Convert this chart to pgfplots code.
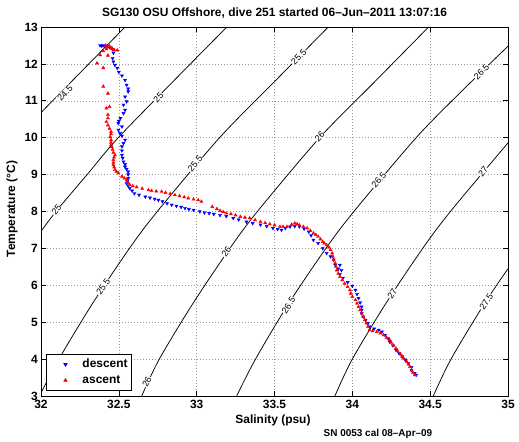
\documentclass[border=0pt]{standalone}
\usepackage{fontspec}
\setmainfont{Liberation Sans}
\usepackage{pgfplots}
\pgfplotsset{compat=1.18}
\begin{document}
\begin{tikzpicture}
\begin{axis}[
  scale only axis, width=467bp, height=369bp,
  xmin=32, xmax=35, ymin=3, ymax=13,
  xtick={32,32.5,33,33.5,34,34.5,35}, ytick={3,4,5,6,7,8,9,10,11,12,13},
  grid=major, grid style={gray!80, line width=0.5bp, dash pattern=on 0.8bp off 2.2bp},
  tick align=inside, major tick length=5bp,
  axis line style={line width=0.8bp},
  every tick/.style={black, line width=0.6bp},
  /pgf/number format/assume math mode=true,
  ticklabel style={font=\bfseries\fontsize{12}{14}\selectfont},
  xticklabel style={anchor=north, inner sep=0pt, yshift=-4bp},
  yticklabel style={anchor=east, inner sep=0pt, xshift=-3bp},
  legend style={at={(0.0107,0.0144)}, anchor=south west, draw=black, line width=0.8bp,
    fill=white, inner xsep=1.5bp, inner ysep=1.85bp, column sep=0bp, row sep=0bp,
    font=\bfseries\fontsize{12}{14}\selectfont,
    nodes={inner sep=2bp, text height=9bp, text depth=3bp}},
  legend cell align=left,
  legend image code/.code={\path (0bp,0bp) (31.8bp,0bp); \draw[#1, only marks] plot coordinates {(17.2bp,0bp)};},
]
% density contours
\addplot[black, line width=0.75bp, smooth, forget plot] coordinates {(32.0,10.68) (32.27,11.84) (32.54,13.0)};
\addplot[black, line width=0.75bp, smooth, forget plot] coordinates {(32.0,7.46) (32.096,8.0) (32.30,9.02) (32.496,10.0) (32.85,11.53) (33.194,13.0)};
\addplot[black, line width=0.75bp, smooth, forget plot] coordinates {(32.0,3.08) (32.115,4.0) (32.33,5.5) (32.568,7.0) (32.747,8.0) (33.147,10.0) (33.50,11.52) (33.845,13.0)};
\addplot[black, line width=0.75bp, smooth, forget plot] coordinates {(32.647,3.0) (32.76,4.0) (32.975,5.5) (33.213,7.0) (33.39,8.0) (33.79,10.0) (34.14,11.5) (34.49,13.0)};
\addplot[black, line width=0.75bp, smooth, forget plot] coordinates {(33.257,3.0) (33.378,4.0) (33.59,5.5) (33.83,7.0) (34.01,8.0) (34.41,10.0) (34.70,11.25) (35.0,12.48)};
\addplot[black, line width=0.75bp, smooth, forget plot] coordinates {(33.888,3.0) (34.0,4.0) (34.214,5.5) (34.452,7.0) (34.63,8.0) (34.97,9.71) (35.0,9.86)};
\addplot[black, line width=0.75bp, smooth, forget plot] coordinates {(34.52,3.0) (34.634,4.0) (34.848,5.5) (35.0,6.45)};
% contour labels
\tikzset{clab/.style={font=\fontsize{9}{10}\selectfont, fill=white, inner sep=0.6bp}}
\node[clab, rotate=46] at (axis cs:32.154,11.2) {24.5};
\node[clab, rotate=46] at (axis cs:32.754,11.09) {25};
\node[clab, rotate=52] at (axis cs:32.10,8.04) {25};
\node[clab, rotate=46] at (axis cs:33.656,12.19) {25.5};
\node[clab, rotate=50] at (axis cs:32.99,9.30) {25.5};
\node[clab, rotate=56] at (axis cs:32.40,5.96) {25.5};
\node[clab, rotate=48] at (axis cs:33.79,10.03) {26};
\node[clab, rotate=56] at (axis cs:33.19,6.91) {26};
\node[clab, rotate=63] at (axis cs:32.68,3.39) {26};
\node[clab, rotate=46] at (axis cs:34.83,11.79) {26.5};
\node[clab, rotate=50] at (axis cs:34.17,8.85) {26.5};
\node[clab, rotate=57] at (axis cs:33.59,5.46) {26.5};
\node[clab, rotate=50] at (axis cs:34.84,9.08) {27};
\node[clab, rotate=57] at (axis cs:34.256,5.78) {27};
\node[clab, rotate=57] at (axis cs:34.86,5.55) {27.5};
% descent
\addplot[only marks, mark=triangle*, mark size=1.8bp, mark options={rotate=180, fill=blue, draw=blue}] coordinates {
(32.38,12.50) (32.39,12.49) (32.40,12.50) (32.41,12.48) (32.42,12.49) (32.43,12.47) (32.44,12.46) (32.45,12.44) (32.46,12.40)
(32.465,12.30) (32.46,12.15) (32.465,12.06) (32.475,11.97) (32.49,11.89) (32.50,11.78) (32.52,11.68) (32.54,11.56) (32.55,11.43)
(32.56,11.33) (32.56,11.25) (32.54,11.11) (32.55,10.98) (32.53,10.89) (32.54,10.75) (32.53,10.66) (32.51,10.53) (32.50,10.45)
(32.497,10.39) (32.52,10.30) (32.497,10.21) (32.507,10.12) (32.52,10.05) (32.54,9.94) (32.53,9.85) (32.52,9.76) (32.52,9.65)
(32.52,9.53) (32.525,9.45) (32.53,9.35) (32.54,9.28) (32.54,9.21) (32.55,9.15) (32.56,9.08) (32.56,9.00) (32.56,8.90) (32.555,8.83)
(32.55,8.76) (32.56,8.70) (32.57,8.63) (32.585,8.56) (32.60,8.49) (32.63,8.45) (32.67,8.40) (32.70,8.37) (32.73,8.34) (32.754,8.31)
(32.78,8.27) (32.81,8.22) (32.84,8.18) (32.87,8.15) (32.90,8.12) (32.925,8.09) (32.95,8.06) (32.98,8.04) (33.02,8.00) (33.05,7.97)
(33.08,7.95) (33.11,7.93) (33.15,7.90) (33.19,7.87) (33.235,7.82) (33.27,7.78) (33.32,7.72) (33.36,7.68) (33.41,7.64) (33.45,7.60)
(33.49,7.55) (33.52,7.52) (33.545,7.50) (33.57,7.55) (33.60,7.59) (33.63,7.60) (33.66,7.59) (33.69,7.53) (33.72,7.45) (33.735,7.35)
(33.75,7.23) (33.78,7.14) (33.81,7.00) (33.835,6.87) (33.86,6.78) (33.88,6.69) (33.89,6.55) (33.91,6.45) (33.93,6.41) (33.92,6.55)
(33.92,6.30) (33.94,6.20) (33.97,6.08) (34.0,5.98) (34.02,5.87) (34.03,5.76) (34.04,5.65) (34.05,5.53) (34.06,5.42) (34.06,5.33)
(34.06,5.24) (34.07,5.15) (34.085,5.06) (34.10,4.97) (34.11,4.88) (34.14,4.82) (34.17,4.79) (34.19,4.74) (34.21,4.65) (34.23,4.56)
(34.24,4.47) (34.26,4.37) (34.28,4.25) (34.30,4.16) (34.32,4.07) (34.34,3.98) (34.36,3.88) (34.38,3.78) (34.38,3.70) (34.40,3.62)
(34.41,3.57)};
\addlegendentry{descent}
% ascent
\addplot[only marks, mark=triangle*, mark size=1.8bp, mark options={fill=red, draw=red}] coordinates {
(34.40,3.57) (34.39,3.63) (34.38,3.70) (34.37,3.79) (34.36,3.86) (34.35,3.93) (34.33,4.02) (34.32,4.07) (34.31,4.13) (34.29,4.22)
(34.28,4.29) (34.265,4.37) (34.25,4.45) (34.24,4.52) (34.22,4.58) (34.20,4.65) (34.18,4.70) (34.157,4.74) (34.13,4.76) (34.11,4.79)
(34.10,4.88) (34.09,4.97) (34.08,5.06) (34.07,5.15) (34.06,5.24) (34.05,5.33) (34.04,5.42) (34.03,5.51) (34.02,5.60) (34.0,5.69)
(33.99,5.78) (33.985,5.87) (33.97,5.96) (33.95,6.05) (33.935,6.14) (33.92,6.23) (33.91,6.32) (33.90,6.41) (33.895,6.50) (33.89,6.60)
(33.88,6.69) (33.875,6.78) (33.87,6.87) (33.86,6.96) (33.85,7.03) (33.835,7.09) (33.82,7.14) (33.81,7.18) (33.795,7.25) (33.78,7.32)
(33.765,7.37) (33.75,7.41) (33.73,7.48) (33.71,7.55) (33.685,7.59) (33.66,7.63) (33.645,7.66) (33.63,7.68) (33.61,7.65) (33.58,7.59)
(33.555,7.59) (33.535,7.59) (33.50,7.63) (33.47,7.66) (33.44,7.69) (33.41,7.72) (33.375,7.77) (33.34,7.82) (33.31,7.84) (33.28,7.86)
(33.25,7.90) (33.22,7.93) (33.19,7.95) (33.17,7.99) (33.15,8.02) (33.13,8.07) (33.10,8.13)
(33.03,8.27) (33.01,8.31) (32.98,8.33) (32.946,8.36) (32.92,8.39) (32.89,8.42) (32.86,8.45) (32.83,8.48) (32.80,8.51) (32.775,8.54)
(32.74,8.55) (32.71,8.56) (32.69,8.58) (32.65,8.62) (32.615,8.66) (32.59,8.69) (32.57,8.72) (32.56,8.78) (32.55,8.85) (32.535,8.90)
(32.52,8.95) (32.497,9.04) (32.485,9.08) (32.475,9.13) (32.47,9.20) (32.465,9.26) (32.465,9.33) (32.465,9.40) (32.47,9.47) (32.475,9.53)
(32.465,9.60) (32.46,9.68) (32.455,9.75) (32.45,9.80) (32.45,9.87) (32.45,9.94) (32.445,10.02) (32.45,10.10) (32.45,10.16) (32.44,10.25)
(32.43,10.34) (32.42,10.43) (32.43,10.53) (32.43,10.62) (32.42,10.80) (32.44,10.84) (32.43,11.20) (32.40,11.39) (32.40,11.89) (32.36,12.02)
(32.38,12.24) (32.43,12.23) (32.40,12.35) (32.42,12.40) (32.43,12.45) (32.44,12.48) (32.45,12.42) (32.46,12.40) (32.47,12.38) (32.49,12.37)
(32.415,12.50)};
\addlegendentry{ascent}
\end{axis}
\node[font=\bfseries\fontsize{12}{14}\selectfont] at (233.5bp,383bp) {SG130 OSU Offshore, dive 251 started 06--Jun--2011 13:07:16};
\node[font=\bfseries\fontsize{12}{14}\selectfont] at (232bp,-24bp) {Salinity (psu)};
\node[font=\bfseries\fontsize{12}{14}\selectfont, rotate=90] at (-29bp,187bp) {Temperature (°C)};
\node[font=\bfseries\fontsize{10}{12}\selectfont] at (337bp,-38bp) {SN 0053 cal 08--Apr--09};
\pgfresetboundingbox
\path (-41bp,-46bp) rectangle (478bp,396bp);
\end{tikzpicture}
\end{document}
